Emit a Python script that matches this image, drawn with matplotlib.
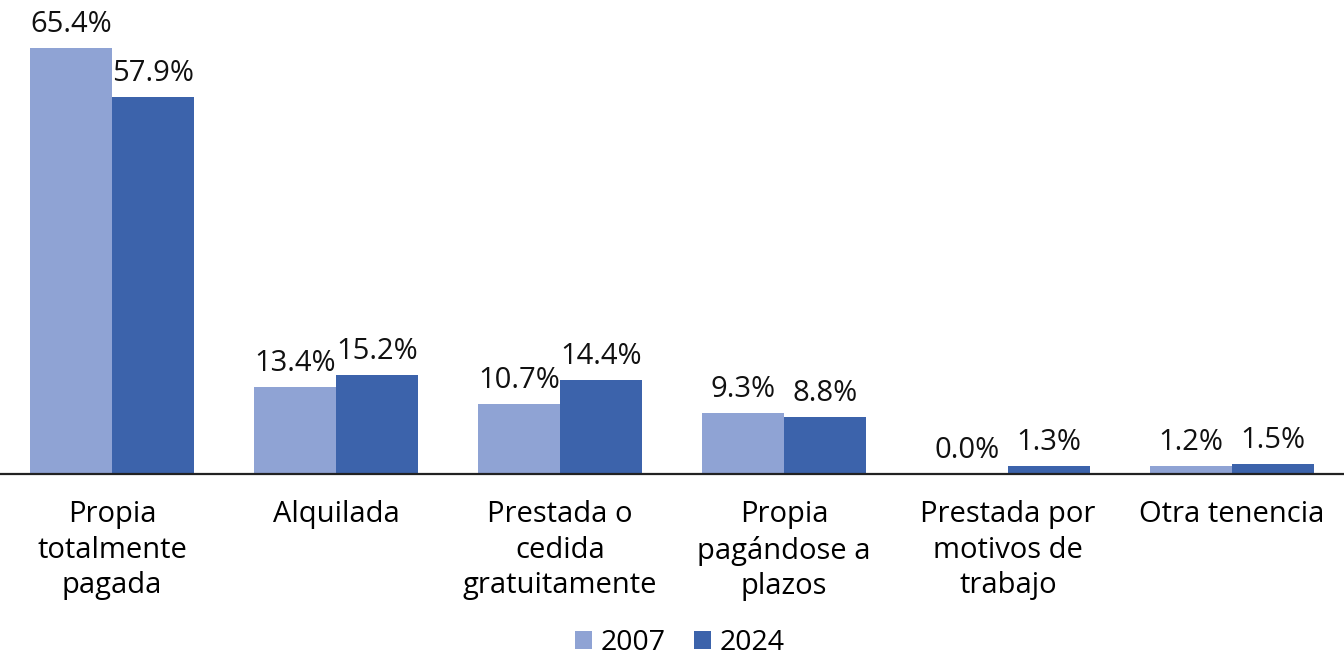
import matplotlib
matplotlib.use("Agg")
import matplotlib.pyplot as plt
import numpy as np

categories = ["Propia\ntotalmente\npagada", "Alquilada", "Prestada o\ncedida\ngratuitamente",
              "Propia\npagándose a\nplazos", "Prestada por\nmotivos de\ntrabajo", "Otra tenencia"]
series_names = ["2007", "2024"]
values_2007 = [65.4, 13.4, 10.7, 9.3, 0.0, 1.2]
values_2024 = [57.9, 15.2, 14.4, 8.8, 1.3, 1.5]
colors = ["#8FA3D4", "#3C63AB"]

plt.rcParams['font.family'] = ['Open Sans', 'DejaVu Sans']

fig = plt.figure(figsize=(13.44, 6.56), dpi=100)
ax = fig.add_axes([0, 0.2774, 1, 0.7226])

x = np.arange(len(categories))
w = 0.364
b1 = ax.bar(x - w/2, values_2007, w, color=colors[0], label=series_names[0])
b2 = ax.bar(x + w/2, values_2024, w, color=colors[1], label=series_names[1])

for bars, vals in ((b1, values_2007), (b2, values_2024)):
    for r, v in zip(bars, vals):
        ax.annotate(f"{v:.1f}%", (r.get_x() + r.get_width()/2, r.get_height()),
                    xytext=(0, 6.5), textcoords="offset points",
                    ha="center", va="bottom", fontsize=21, color="#111111")

ax.set_xlim(-0.5, len(categories) - 0.5)
ax.set_ylim(0, 72.77)
ax.set_xticks(x)
ax.set_xticklabels(categories, fontsize=21, linespacing=1.29, va="top")
ax.tick_params(axis="x", length=0, pad=19)
ax.set_yticks([])
for s in ("top", "right", "left"):
    ax.spines[s].set_visible(False)
ax.spines["bottom"].set_linewidth(1.6)
ax.spines["bottom"].set_color("#222222")
ax.set_facecolor("none")

fig.legend(handles=[b1, b2], labels=series_names, loc="center", bbox_to_anchor=(0.506, 0.02),
           ncol=2, frameon=False, fontsize=20.5, handlelength=0.6, handleheight=0.6,
           handletextpad=0.3, columnspacing=1.0, borderpad=0)

fig.savefig("out.png", dpi=100)
